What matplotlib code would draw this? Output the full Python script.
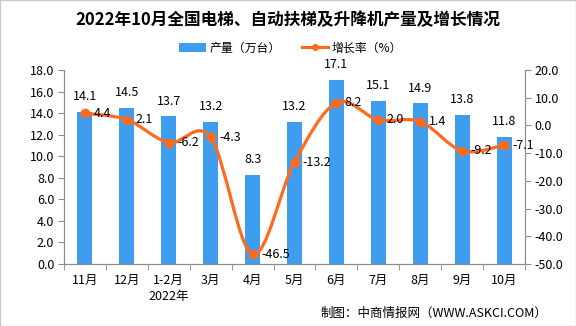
import matplotlib
matplotlib.use("Agg")
import matplotlib.pyplot as plt
from matplotlib.path import Path
from matplotlib.patches import PathPatch, Patch, Rectangle
from matplotlib.lines import Line2D
import numpy as np

plt.rcParams['font.family'] = ['Noto Sans CJK SC', 'DejaVu Sans']

months = ["11月", "12月", "1-2月", "3月", "4月", "5月", "6月", "7月", "8月", "9月", "10月"]
output = [14.1, 14.5, 13.7, 13.2, 8.3, 13.2, 17.1, 15.1, 14.9, 13.8, 11.8]
growth = [4.4, 2.1, -6.2, -4.3, -46.5, -13.2, 8.2, 2.0, 1.4, -9.2, -7.1]
year_label = "2022年"

title = "2022年10月全国电梯、自动扶梯及升降机产量及增长情况"
bar_name = "产量（万台）"
line_name = "增长率（%）"
source = "制图：中商情报网（WWW.ASKCI.COM）"

blue = "#3F9DEF"
orange = "#FF6A1C"
grey = "#8C8C8C"


def smooth_path(xs, ys):
    # Excel-like smoothed line: cubic bezier with Catmull-Rom controls
    pts = np.column_stack([xs, ys]).astype(float)
    n = len(pts)
    verts = [pts[0]]
    codes = [Path.MOVETO]
    for i in range(n - 1):
        p0 = pts[max(i - 1, 0)]
        p1 = pts[i]
        p2 = pts[i + 1]
        p3 = pts[min(i + 2, n - 1)]
        c1 = p1 + (p2 - p0) / 6.0
        c2 = p2 - (p3 - p1) / 6.0
        verts += [c1, c2, p2]
        codes += [Path.CURVE4] * 3
    return Path(verts, codes)


fig = plt.figure(figsize=(5.76, 3.26), dpi=100)
fig.patches.append(Rectangle((0, 0), 1, 1, transform=fig.transFigure,
                             fill=False, edgecolor="#C8C8C8", linewidth=1))
ax = fig.add_axes([64 / 576, 62 / 326, 461 / 576, 194 / 326])
ax2 = ax.twinx()

x = np.arange(len(months))
ax.bar(x, output, width=0.36, color=blue, zorder=2)
for xi, v in zip(x, output):
    ax.annotate("%.1f" % v, (xi, v), xytext=(0, 11), textcoords="offset points",
                ha="center", va="center", fontsize=9)

ax.set_xlim(-0.5, len(months) - 0.5)
ax.set_ylim(0, 18)
ax.set_yticks(np.arange(0, 18.1, 2))
ax.set_yticklabels(["%.1f" % t for t in np.arange(0, 18.1, 2)], fontsize=9)
ax.set_xticks(x)
ax.set_xticklabels(months, fontsize=9)
ax.set_xticks(np.arange(-0.5, len(months), 1), minor=True)
ax.tick_params(axis="x", which="major", length=0, pad=7)
ax.tick_params(axis="x", which="minor", length=4, color=grey, direction="out")
ax.tick_params(axis="y", length=4, color=grey, direction="out", pad=3)
ax.text(2, -0.165, year_label, transform=ax.get_xaxis_transform(),
        ha="center", va="center", fontsize=9)

ax2.set_ylim(-50, 20)
ticks2 = np.arange(-50, 20.1, 10)
ax2.set_yticks(ticks2)
ax2.set_yticklabels(["%.1f" % t for t in ticks2], fontsize=9)
ax2.tick_params(axis="y", length=4, color=grey, direction="out", pad=3)

path = smooth_path(x, growth)
ax2.add_patch(PathPatch(path, facecolor="none", edgecolor=orange,
                        linewidth=2.3, zorder=3, capstyle="round"))
ax2.plot(x, growth, linestyle="none", marker="o", markersize=6,
         color=orange, zorder=4)
for xi, v in zip(x, growth):
    ax2.annotate("%.1f" % v, (xi, v), xytext=(6, 0), textcoords="offset points",
                 ha="left", va="center", fontsize=9, zorder=5)

for a in (ax, ax2):
    a.spines["top"].set_visible(False)
    for s in ("left", "right", "bottom"):
        a.spines[s].set_color(grey)

fig.text(0.5, 1 - 20 / 326, title, ha="center", va="center",
         fontsize=12, fontweight="bold")

handles = [Patch(facecolor=blue, edgecolor="none"),
           Line2D([0], [0], color=orange, linewidth=2.3, marker="o", markersize=4)]
fig.legend(handles, [bar_name, line_name], loc="center",
           bbox_to_anchor=(0.505, 1 - 48 / 326), ncol=2, frameon=False,
           fontsize=8.6, handlelength=2.2, handletextpad=0.3, columnspacing=1.8)

fig.text(547 / 576, 1 - 313 / 326, source, ha="right", va="center", fontsize=9)

fig.savefig("out.png", dpi=100)
